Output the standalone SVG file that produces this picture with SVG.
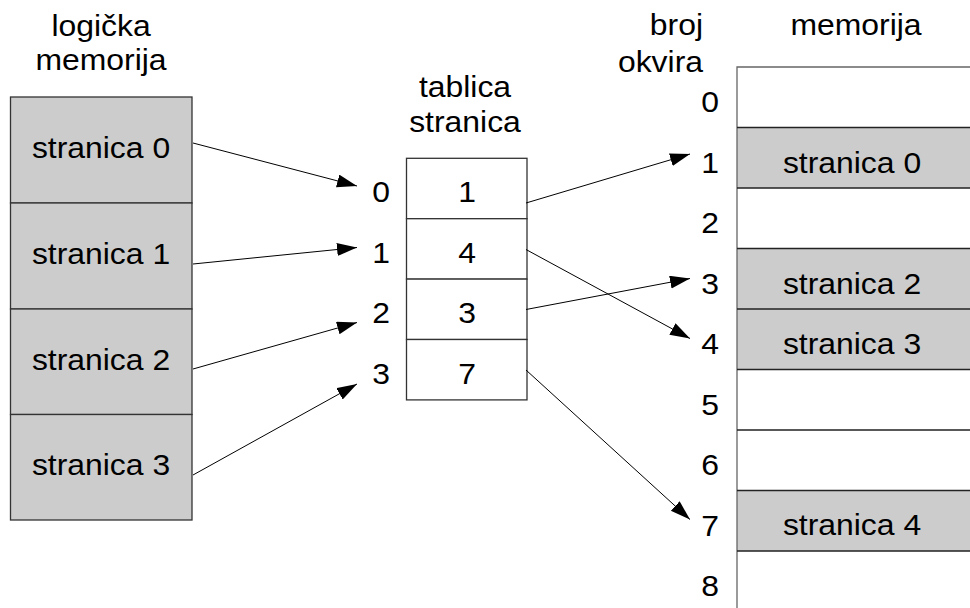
<svg xmlns="http://www.w3.org/2000/svg" width="970" height="608" viewBox="0 0 970 608">
  <style>
    text { font-family: "Liberation Sans", Arial, sans-serif; font-size: 29px; fill: #000; }
    .c { text-anchor: middle; }
    .r { text-anchor: end; }
    .page { fill: #cccccc; stroke: #333; stroke-width: 1.3; }
    .cell { fill: #ffffff; stroke: #333; stroke-width: 1.3; }
    .div { stroke: #222; stroke-width: 1.3; fill: none; }
    .edge { stroke: #666; stroke-width: 1.3; fill: none; }
    .link { stroke: #000; stroke-width: 1; fill: none; marker-end: url(#head); }
  </style>
  <defs>
    <marker id="head" markerUnits="userSpaceOnUse" markerWidth="21" markerHeight="14" refX="20" refY="6.5" orient="auto">
      <path d="M0,0 L20,6.5 L0,13 z" fill="#000"/>
    </marker>
  </defs>
  <rect width="970" height="608" fill="#fff"/>

  <!-- logical memory -->
  <g id="logical-memory">
    <text class="c" transform="translate(101,36) scale(1.1,1)">logička</text>
    <text class="c" transform="translate(101,70) scale(1.1,1)">memorija</text>
    <rect class="page" x="10.5" y="97" width="181.5" height="106"/>
    <rect class="page" x="10.5" y="203" width="181.5" height="106"/>
    <rect class="page" x="10.5" y="309" width="181.5" height="105.5"/>
    <rect class="page" x="10.5" y="414.5" width="181.5" height="105.5"/>
    <text class="c" transform="translate(101,158) scale(1.1,1)">stranica 0</text>
    <text class="c" transform="translate(101,264) scale(1.1,1)">stranica 1</text>
    <text class="c" transform="translate(101,369.5) scale(1.1,1)">stranica 2</text>
    <text class="c" transform="translate(101,475) scale(1.1,1)">stranica 3</text>
  </g>

  <!-- page table -->
  <g id="page-table">
    <text class="c" transform="translate(465,97) scale(1.1,1)">tablica</text>
    <text class="c" transform="translate(465,132) scale(1.1,1)">stranica</text>
    <rect class="cell" x="406.5" y="158.3" width="120.5" height="60.4"/>
    <rect class="cell" x="406.5" y="218.7" width="120.5" height="60.4"/>
    <rect class="cell" x="406.5" y="279.1" width="120.5" height="60.4"/>
    <rect class="cell" x="406.5" y="339.5" width="120.5" height="60.4"/>
    <text class="c" transform="translate(381,202) scale(1.1,1)">0</text>
    <text class="c" transform="translate(381,262.8) scale(1.1,1)">1</text>
    <text class="c" transform="translate(381,323.3) scale(1.1,1)">2</text>
    <text class="c" transform="translate(381,383.7) scale(1.1,1)">3</text>
    <text class="c" transform="translate(467,202) scale(1.1,1)">1</text>
    <text class="c" transform="translate(467,262.8) scale(1.1,1)">4</text>
    <text class="c" transform="translate(467,323.3) scale(1.1,1)">3</text>
    <text class="c" transform="translate(467,383.7) scale(1.1,1)">7</text>
  </g>

  <!-- physical memory -->
  <g id="physical-memory">
    <text class="r" transform="translate(703,35) scale(1.1,1)">broj</text>
    <text class="r" transform="translate(703,72) scale(1.1,1)">okvira</text>
    <text class="c" transform="translate(856,35) scale(1.1,1)">memorija</text>
    <rect x="737" y="127.5" width="233" height="60.5" fill="#cccccc"/>
    <rect x="737" y="248.5" width="233" height="121" fill="#cccccc"/>
    <rect x="737" y="490.5" width="233" height="60.5" fill="#cccccc"/>
    <path class="edge" d="M970,67 H737 V608"/>
    <path class="div" d="M737,127.5 H970 M737,188 H970 M737,248.5 H970 M737,309 H970 M737,369.5 H970 M737,430 H970 M737,490.5 H970 M737,551 H970"/>
    <text class="c" transform="translate(852,172.5) scale(1.1,1)">stranica 0</text>
    <text class="c" transform="translate(852,293.5) scale(1.1,1)">stranica 2</text>
    <text class="c" transform="translate(852,354) scale(1.1,1)">stranica 3</text>
    <text class="c" transform="translate(852,535) scale(1.1,1)">stranica 4</text>
    <text class="c" transform="translate(710,112) scale(1.1,1)">0</text>
    <text class="c" transform="translate(710,172.5) scale(1.1,1)">1</text>
    <text class="c" transform="translate(710,233) scale(1.1,1)">2</text>
    <text class="c" transform="translate(710,293.5) scale(1.1,1)">3</text>
    <text class="c" transform="translate(710,354) scale(1.1,1)">4</text>
    <text class="c" transform="translate(710,414.5) scale(1.1,1)">5</text>
    <text class="c" transform="translate(710,475) scale(1.1,1)">6</text>
    <text class="c" transform="translate(710,535.5) scale(1.1,1)">7</text>
    <text class="c" transform="translate(710,596) scale(1.1,1)">8</text>
  </g>

  <!-- connectors -->
  <g id="connectors">
    <line class="link" x1="193" y1="143" x2="357" y2="186"/>
    <line class="link" x1="193" y1="264" x2="357" y2="247.5"/>
    <line class="link" x1="193" y1="369" x2="357" y2="322.5"/>
    <line class="link" x1="193" y1="475" x2="357" y2="384"/>
    <line class="link" x1="526" y1="203" x2="690" y2="154"/>
    <line class="link" x1="526" y1="249.5" x2="690" y2="338.5"/>
    <line class="link" x1="526" y1="309.5" x2="690" y2="278.5"/>
    <line class="link" x1="526" y1="370" x2="690" y2="519.5"/>
  </g>
</svg>
